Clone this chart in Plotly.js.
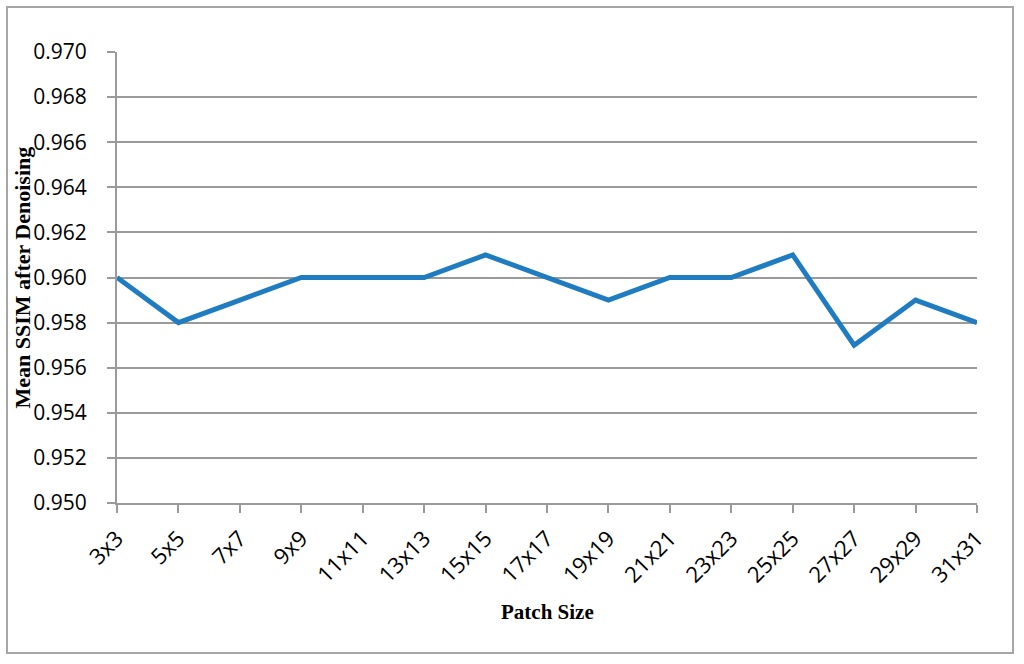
<!DOCTYPE html>
<html>
<head>
<meta charset="utf-8">
<script src="https://cdn.plot.ly/plotly-3.0.1.min.js"></script>
<style>
  html, body { margin: 0; padding: 0; background: #fff; }
  #wrap { position: relative; width: 1024px; height: 664px; }
  #chart { width: 1024px; height: 664px; }
  #frame { position: absolute; left: 6px; top: 6px; width: 1004px; height: 644px;
           border: 2px solid #a6a6a6; pointer-events: none; }
</style>
</head>
<body>
<div id="wrap">
  <div id="chart"></div>
  <div id="frame"></div>
</div>
<script>
const patchSizes = ["3x3","5x5","7x7","9x9","11x11","13x13","15x15","17x17","19x19","21x21","23x23","25x25","27x27","29x29","31x31"];
const meanSSIM = [0.960,0.958,0.959,0.960,0.960,0.960,0.961,0.960,0.959,0.960,0.960,0.961,0.957,0.959,0.958];
const yTicks = [0.950,0.952,0.954,0.956,0.958,0.960,0.962,0.964,0.966,0.968,0.970];
const xTitle = "Patch Size";
const yTitle = "Mean SSIM after Denoising";

const W = 1024, H = 664;
const L = 117, R = 47, T = 52, B = 161;
const plotW = W - L - R, plotH = H - T - B;

const trace = {
  x: patchSizes,
  y: meanSSIM,
  type: "scatter",
  mode: "lines",
  line: { color: "#1f7cc1", width: 5 },
  hoverinfo: "x+y"
};

const layout = {
  width: W, height: H,
  margin: { l: L, r: R, t: T, b: B, pad: 0 },
  paper_bgcolor: "#ffffff",
  plot_bgcolor: "#ffffff",
  showlegend: false,
  font: { family: "Open Sans, sans-serif", color: "#000" },
  xaxis: {
    type: "category",
    range: [0, patchSizes.length - 1],
    showgrid: false,
    showline: true, linecolor: "#9a9a9a", linewidth: 2,
    ticks: "outside", ticklen: 8, tickcolor: "#9a9a9a", tickwidth: 2,
    tickangle: -45,
    tickfont: { family: "Open Sans, sans-serif", size: 22, color: "#000" },
    ticklabelstandoff: 4,
    zeroline: false,
    automargin: false
  },
  yaxis: {
    range: [0.950, 0.970],
    tickvals: yTicks,
    ticktext: yTicks.map(v => v.toFixed(3)),
    showgrid: true, gridcolor: "#9a9a9a", gridwidth: 2,
    showline: true, linecolor: "#9a9a9a", linewidth: 2,
    ticks: "outside", ticklen: 8, tickcolor: "#9a9a9a", tickwidth: 2,
    tickfont: { family: "Open Sans, sans-serif", size: 21, color: "#000" },
    ticklabelstandoff: 16,
    zeroline: false,
    automargin: false
  },
  annotations: [
    {
      text: "<b>" + yTitle + "</b>",
      xref: "paper", yref: "paper",
      x: (22 - L) / plotW, y: 0.5,
      xanchor: "center", yanchor: "middle",
      textangle: -90, showarrow: false,
      font: { family: "Liberation Serif, Times New Roman, serif", size: 22, color: "#000" }
    },
    {
      text: "<b>" + xTitle + "</b>",
      xref: "paper", yref: "paper",
      x: 0.5, y: (T + plotH - 612) / plotH,
      xanchor: "center", yanchor: "middle",
      showarrow: false,
      font: { family: "Liberation Serif, Times New Roman, serif", size: 21, color: "#000" }
    }
  ]
};

Plotly.newPlot("chart", [trace], layout, { displayModeBar: false, staticPlot: true });
</script>
</body>
</html>
